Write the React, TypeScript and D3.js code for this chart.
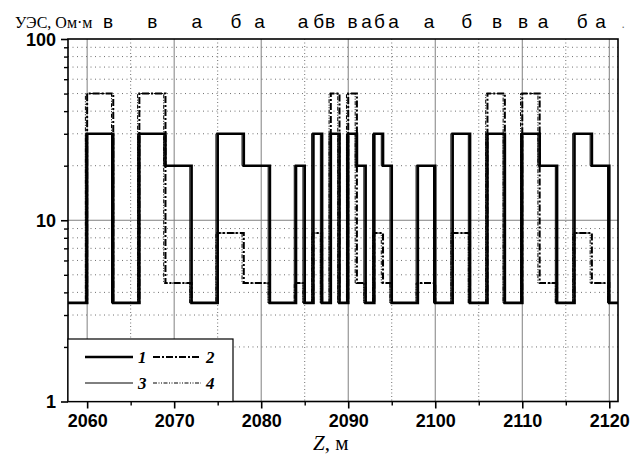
import React, { useEffect, useRef } from 'react';
import * as d3 from 'd3';

// bed boundaries, m (model, curves 1 and 2)
const zTop = [2060, 2066, 2069, 2075, 2078, 2084, 2086, 2088, 2090, 2091, 2093, 2094, 2098, 2102, 2106, 2110, 2112, 2116, 2118];
const zBase = [2063, 2069, 2072, 2078, 2081, 2085, 2087, 2089, 2091, 2092, 2094, 2095, 2100, 2104, 2108, 2112, 2114, 2118, 2120];
// boundaries read for curves 3 and 4
const zTop3 = [2059.8, 2065.8, 2068.8, 2074.8, 2077.8, 2083.8, 2085.8, 2087.8, 2089.8, 2090.8, 2092.8, 2093.8, 2097.8, 2101.8, 2105.8, 2109.8, 2111.8, 2115.8, 2117.8];
const zBase3 = [2062.8, 2068.8, 2071.8, 2077.8, 2080.8, 2084.8, 2086.8, 2088.8, 2090.8, 2091.8, 2093.8, 2094.8, 2099.8, 2103.8, 2107.8, 2111.8, 2113.8, 2117.8, 2119.8];
const bedType = ['в', 'в', 'а', 'б', 'а', 'а', 'б', 'в', 'в', 'а', 'б', 'а', 'а', 'б', 'в', 'в', 'а', 'б', 'а'];
const rhoHost = 3.5;
const rhoA: Record<string, number> = { 'а': 20, 'б': 30, 'в': 30 };
const rhoB: Record<string, number> = { 'а': 4.5, 'б': 8.5, 'в': 50 };

// positions of the letters above the frame
const labelZ = [2062.4, 2067.5, 2072.6, 2077.1, 2079.8, 2084.8, 2086.6, 2087.9, 2090.5, 2092.1, 2093.6, 2095.2, 2099.3, 2103.6, 2107.1, 2110.1, 2112.4, 2116.9, 2119.0];

const xMajor = [2060, 2070, 2080, 2090, 2100, 2110, 2120];
const xMinor = [2065, 2075, 2085, 2095, 2105, 2115];
const yMajor = [1, 10, 100];
const yMinor = [2, 3, 4, 5, 6, 7, 8, 9, 20, 30, 40, 50, 60, 70, 80, 90];

const legendRows = [
  [{ name: '1', width: 2.6, dash: null }, { name: '2', width: 2, dash: '7,2,2,2' }],
  [{ name: '3', width: 1, dash: null }, { name: '4', width: 1, dash: '4,1.5,1,1.5,1,1.5' }],
];

function stepPoints(tops: number[], bases: number[], rho: Record<string, number>, z0: number, z1: number) {
  const pts: [number, number][] = [[z0, rhoHost]];
  tops.forEach((t, i) => {
    pts.push([t, rho[bedType[i]]]);
    if (i === tops.length - 1 || tops[i + 1] !== bases[i]) pts.push([bases[i], rhoHost]);
  });
  pts.push([z1, rhoHost]);
  return pts;
}

function ResistivityChart() {
  const ref = useRef<SVGSVGElement>(null);

  useEffect(() => {
    const width = 638, height = 459;
    const left = 68, right = 618, top = 39, bottom = 401.5;
    const svg = d3.select(ref.current).attr('width', width).attr('height', height);
    svg.selectAll('*').remove();

    const x = d3.scaleLinear().domain([2057.8, 2121]).range([left, right]);
    const y = d3.scaleLog().domain([1, 100]).range([bottom, top]);
    const [z0, z1] = x.domain();

    const sans = 'Liberation Sans, Arial, sans-serif';
    const serif = 'Liberation Serif, Times New Roman, serif';

    // grid
    const grid = svg.append('g');
    grid.selectAll('.vmaj').data(xMajor).enter().append('line')
      .attr('x1', d => x(d)).attr('x2', d => x(d)).attr('y1', top).attr('y2', bottom)
      .attr('stroke', '#808080').attr('stroke-width', 1);
    grid.selectAll('.vmin').data(xMinor).enter().append('line')
      .attr('x1', d => x(d)).attr('x2', d => x(d)).attr('y1', top).attr('y2', bottom)
      .attr('stroke', '#707070').attr('stroke-width', 1).attr('stroke-dasharray', '1,2.5');
    grid.selectAll('.hmin').data(yMinor).enter().append('line')
      .attr('x1', left).attr('x2', right).attr('y1', d => y(d)).attr('y2', d => y(d))
      .attr('stroke', '#707070').attr('stroke-width', 1).attr('stroke-dasharray', '1,3.5');
    grid.append('line')
      .attr('x1', left).attr('x2', right).attr('y1', y(10)).attr('y2', y(10))
      .attr('stroke', '#808080').attr('stroke-width', 1);

    // curves
    const line = d3.line<[number, number]>()
      .x(d => x(d[0])).y(d => y(d[1])).curve(d3.curveStepAfter);
    const series = [
      { pts: stepPoints(zTop3, zBase3, rhoA, z0, z1), width: 1, dash: null },
      { pts: stepPoints(zTop3, zBase3, rhoB, z0, z1), width: 1, dash: '4,1.5,1,1.5,1,1.5' },
      { pts: stepPoints(zTop, zBase, rhoB, z0, z1), width: 2, dash: '7,2,2,2' },
      { pts: stepPoints(zTop, zBase, rhoA, z0, z1), width: 2.6, dash: null },
    ];
    series.forEach(s => {
      svg.append('path').datum(s.pts)
        .attr('fill', 'none').attr('stroke', '#000')
        .attr('stroke-width', s.width)
        .attr('stroke-dasharray', s.dash)
        .attr('d', line);
    });

    // frame
    svg.append('rect').attr('x', left).attr('y', top)
      .attr('width', right - left).attr('height', bottom - top)
      .attr('fill', 'none').attr('stroke', '#000').attr('stroke-width', 1.6);

    // x axis
    const xa = svg.append('g').attr('transform', `translate(0,${bottom})`)
      .call(d3.axisBottom(x).tickValues(xMajor).tickSize(7).tickFormat(d3.format('d')));
    xa.select('.domain').remove();
    xa.selectAll('line').attr('stroke-width', 1.6);
    xa.selectAll('text').attr('font-family', sans).attr('font-weight', 'bold')
      .attr('font-size', 18).attr('dy', null).attr('y', 25.5);
    const xm = svg.append('g').attr('transform', `translate(0,${bottom})`)
      .call(d3.axisBottom(x).tickValues(xMinor).tickSize(4).tickFormat(() => ''));
    xm.select('.domain').remove();
    xm.selectAll('line').attr('stroke-width', 1.4);

    // y axis
    const ya = svg.append('g').attr('transform', `translate(${left},0)`)
      .call(d3.axisLeft(y).tickValues(yMajor).tickSize(7).tickFormat(d3.format('d')));
    ya.select('.domain').remove();
    ya.selectAll('line').attr('stroke-width', 1.6);
    ya.selectAll('text').attr('font-family', sans).attr('font-weight', 'bold')
      .attr('font-size', 18).attr('x', -12).attr('dy', '0.36em');
    const ym = svg.append('g').attr('transform', `translate(${left},0)`)
      .call(d3.axisLeft(y).tickValues(yMinor).tickSize(4).tickFormat(() => ''));
    ym.select('.domain').remove();
    ym.selectAll('line').attr('stroke-width', 1.4);

    // titles
    svg.append('text').attr('x', 15).attr('y', 28)
      .attr('font-family', serif).attr('font-size', 16).text('УЭС, Ом·м');
    const zt = svg.append('text').attr('x', 313).attr('y', 450)
      .attr('font-family', serif).attr('font-size', 21);
    zt.append('tspan').attr('font-style', 'italic').text('Z');
    zt.append('tspan').text(', м');

    // bed letters
    svg.selectAll('.bed').data(labelZ).enter().append('text')
      .attr('x', d => x(d)).attr('y', 28).attr('text-anchor', 'middle')
      .attr('font-family', sans).attr('font-size', 19)
      .text((_, i) => bedType[i]);
    svg.append('text').attr('x', x(2121.4)).attr('y', 28)
      .attr('font-family', sans).attr('font-size', 12).attr('fill', '#666').text('.');

    // legend
    const lg = svg.append('g');
    lg.append('rect').attr('x', left).attr('y', 339).attr('width', 165).attr('height', bottom - 339)
      .attr('fill', '#fff').attr('stroke', '#000').attr('stroke-width', 1.2);
    legendRows.forEach((row, r) => {
      const ly = 357 + r * 26;
      row.forEach((it, c) => {
        const lx = 85 + c * 68;
        lg.append('line').attr('x1', lx).attr('x2', lx + 48).attr('y1', ly).attr('y2', ly)
          .attr('stroke', '#000').attr('stroke-width', it.width).attr('stroke-dasharray', it.dash);
        lg.append('text').attr('x', lx + 53).attr('y', ly + 6)
          .attr('font-family', serif).attr('font-style', 'italic').attr('font-weight', 'bold')
          .attr('font-size', 17).text(it.name);
      });
    });
  }, []);

  return <svg ref={ref} style={{ position: 'absolute', left: 0, top: 0 }}></svg>;
}

export default function App() {
  return <ResistivityChart />;
}
